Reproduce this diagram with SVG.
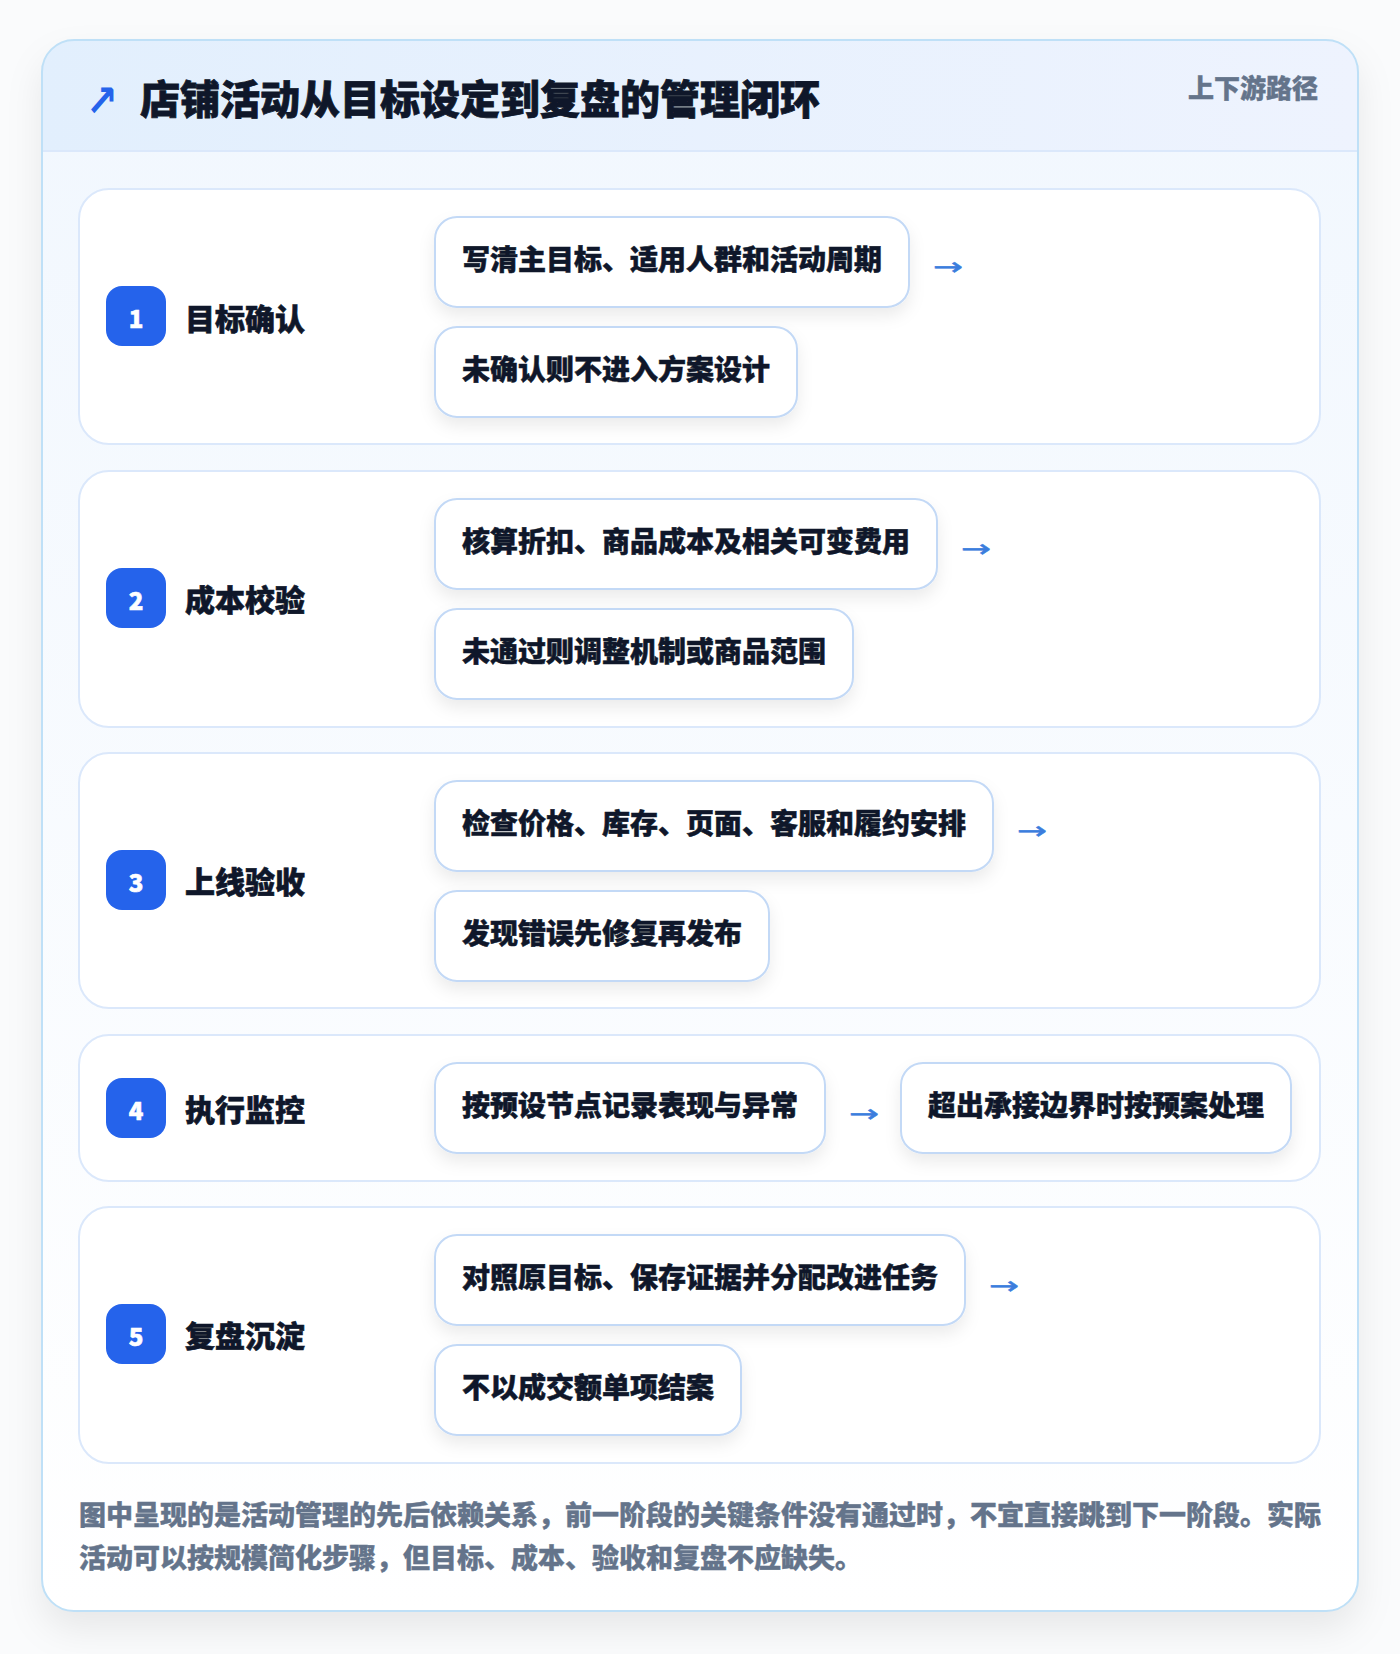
<svg xmlns="http://www.w3.org/2000/svg" width="1400" height="1654" viewBox="0 0 1400 1654">
<defs>
<style>
.f{font-family:"Noto Sans CJK SC","Noto Sans",sans-serif;font-weight:900}
.stage{fill:#ffffff;stroke:#dbe8fb;stroke-width:2}
.badge{fill:#2563eb}
.num{fill:#ffffff;stroke:#ffffff;stroke-width:0.6;font-size:24px;text-anchor:middle}
.lbl{fill:#0f172a;stroke:#0f172a;stroke-width:0.6;font-size:30px}
.pill{fill:#ffffff;stroke:#c3d9f6;stroke-width:2;filter:url(#ps)}
.pt{fill:#0f172a;stroke:#0f172a;stroke-width:0.5;font-size:28px}
.arr{fill:#3b7ddd;stroke:#3b7ddd;stroke-width:0.5;font-family:"DejaVu Sans",sans-serif;font-size:24px;font-weight:400;dominant-baseline:central}
.foot{fill:#64748b;stroke:#64748b;stroke-width:0.4;font-size:27px}
.ico{fill:#2563eb;font-family:"DejaVu Sans",sans-serif;font-weight:700;font-size:44px}
</style>
<linearGradient id="hg" x1="0" y1="0" x2="1" y2="0">
<stop offset="0" stop-color="#e2effd"/>
<stop offset="1" stop-color="#eef3fe"/>
</linearGradient>
<linearGradient id="bg" x1="0" y1="0" x2="0" y2="1">
<stop offset="0" stop-color="#f1f7fe"/>
<stop offset="1" stop-color="#ffffff"/>
</linearGradient>
<filter id="cs" x="-10%" y="-10%" width="120%" height="120%">
<feDropShadow dx="0" dy="18" stdDeviation="18" flood-color="#0f172a" flood-opacity="0.08"/>
</filter>
<filter id="ps" x="-20%" y="-40%" width="140%" height="190%">
<feDropShadow dx="0" dy="8" stdDeviation="8" flood-color="#0f172a" flood-opacity="0.08"/>
</filter>
<clipPath id="cc"><rect x="42" y="40" width="1316" height="1571" rx="32"/></clipPath>
</defs>
<rect width="1400" height="1654" fill="#fafbfc"/>
<g id="card">
<rect x="42" y="40" width="1316" height="1571" rx="32" fill="#ffffff" filter="url(#cs)"/>
<g clip-path="url(#cc)">
<rect x="42" y="40" width="1316" height="1571" fill="url(#bg)"/>
<rect x="42" y="40" width="1316" height="111" fill="url(#hg)"/>
<line x1="42" y1="151" x2="1358" y2="151" stroke="#dbe8fb" stroke-width="2"/>
</g>
<rect x="42" y="40" width="1316" height="1571" rx="32" fill="none" stroke="#bfe0f7" stroke-width="2"/>
</g>
<g id="header">
<text class="ico" x="86" y="116" textLength="32" lengthAdjust="spacingAndGlyphs">↗</text>
<text x="140" y="114" class="f" font-size="40" fill="#0f172a" stroke="#0f172a" stroke-width="0.8">店铺活动从目标设定到复盘的管理闭环</text>
<text x="1318" y="98" class="f" font-size="26" fill="#64748b" stroke="#64748b" stroke-width="0.4" text-anchor="end">上下游路径</text>
</g>
<g id="stage-1">
<rect class="stage" x="79" y="189" width="1241" height="255" rx="30"/>
<rect class="badge" x="106" y="286" width="60" height="60" rx="16"/>
<text class="f num" x="136" y="328">1</text>
<text class="f lbl" x="185" y="330">目标确认</text>
</g>
<g id="s1-a"><rect class="pill" x="435" y="217" width="474" height="90" rx="22"/><text class="f pt" x="462" y="270">写清主目标、适用人群和活动周期</text></g>
<g id="s1-b"><rect class="pill" x="435" y="327" width="362" height="90" rx="22"/><text class="f pt" x="462" y="380">未确认则不进入方案设计</text></g>
<g id="stage-2">
<rect class="stage" x="79" y="471" width="1241" height="256" rx="30"/>
<rect class="badge" x="106" y="568" width="60" height="60" rx="16"/>
<text class="f num" x="136" y="610">2</text>
<text class="f lbl" x="185" y="611">成本校验</text>
</g>
<g id="s2-a"><rect class="pill" x="435" y="499" width="502" height="90" rx="22"/><text class="f pt" x="462" y="552">核算折扣、商品成本及相关可变费用</text></g>
<g id="s2-b"><rect class="pill" x="435" y="609" width="418" height="90" rx="22"/><text class="f pt" x="462" y="662">未通过则调整机制或商品范围</text></g>
<g id="stage-3">
<rect class="stage" x="79" y="753" width="1241" height="255" rx="30"/>
<rect class="badge" x="106" y="850" width="60" height="60" rx="16"/>
<text class="f num" x="136" y="892">3</text>
<text class="f lbl" x="185" y="893">上线验收</text>
</g>
<g id="s3-a"><rect class="pill" x="435" y="781" width="558" height="90" rx="22"/><text class="f pt" x="462" y="834">检查价格、库存、页面、客服和履约安排</text></g>
<g id="s3-b"><rect class="pill" x="435" y="891" width="334" height="90" rx="22"/><text class="f pt" x="462" y="944">发现错误先修复再发布</text></g>
<g id="stage-4">
<rect class="stage" x="79" y="1035" width="1241" height="146" rx="30"/>
<rect class="badge" x="106" y="1078" width="60" height="60" rx="16"/>
<text class="f num" x="136" y="1120">4</text>
<text class="f lbl" x="185" y="1121">执行监控</text>
</g>
<g id="s4-a"><rect class="pill" x="435" y="1063" width="390" height="90" rx="22"/><text class="f pt" x="462" y="1116">按预设节点记录表现与异常</text></g>
<g id="s4-b"><rect class="pill" x="901" y="1063" width="390" height="90" rx="22"/><text class="f pt" x="928" y="1116">超出承接边界时按预案处理</text></g>
<g id="stage-5">
<rect class="stage" x="79" y="1207" width="1241" height="256" rx="30"/>
<rect class="badge" x="106" y="1304" width="60" height="60" rx="16"/>
<text class="f num" x="136" y="1346">5</text>
<text class="f lbl" x="185" y="1347">复盘沉淀</text>
</g>
<g id="s5-a"><rect class="pill" x="435" y="1235" width="530" height="90" rx="22"/><text class="f pt" x="462" y="1288">对照原目标、保存证据并分配改进任务</text></g>
<g id="s5-b"><rect class="pill" x="435" y="1345" width="306" height="90" rx="22"/><text class="f pt" x="462" y="1398">不以成交额单项结案</text></g>
<g id="connectors">
<text class="arr" x="933" y="267" textLength="30" lengthAdjust="spacingAndGlyphs">→</text>
<text class="arr" x="961" y="549" textLength="30" lengthAdjust="spacingAndGlyphs">→</text>
<text class="arr" x="1017" y="831" textLength="30" lengthAdjust="spacingAndGlyphs">→</text>
<text class="arr" x="849" y="1114" textLength="30" lengthAdjust="spacingAndGlyphs">→</text>
<text class="arr" x="989" y="1286" textLength="30" lengthAdjust="spacingAndGlyphs">→</text>
</g>
<g id="footer">
<text class="f foot" x="79" y="1525">图中呈现的是活动管理的先后依赖关系，前一阶段的关键条件没有通过时，不宜直接跳到下一阶段。实际</text>
<text class="f foot" x="79" y="1568">活动可以按规模简化步骤，但目标、成本、验收和复盘不应缺失。</text>
</g>
</svg>
